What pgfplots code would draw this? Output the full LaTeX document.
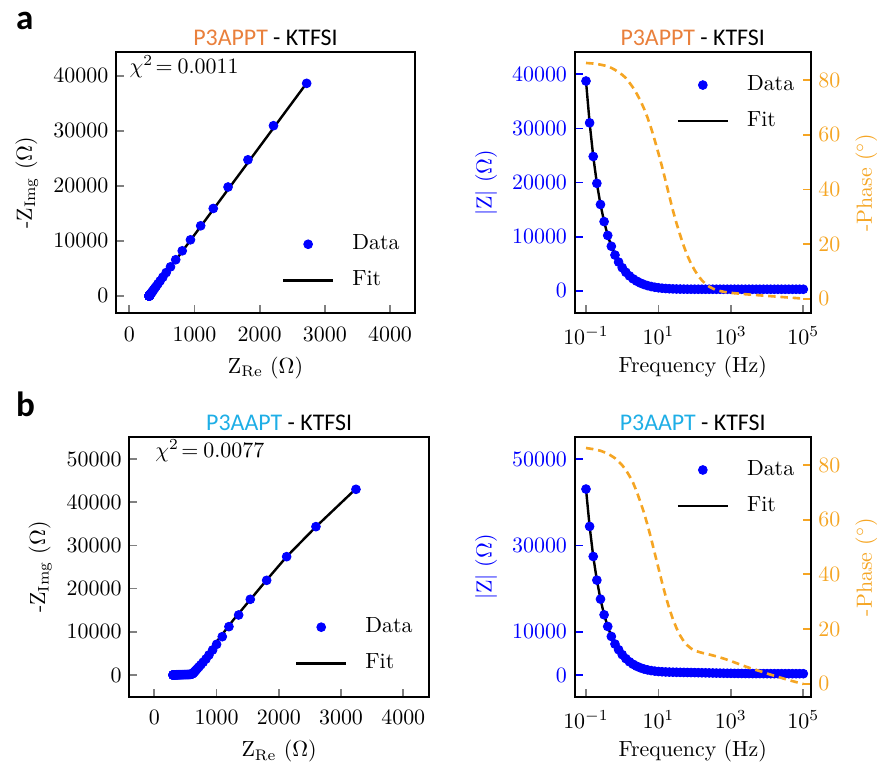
\documentclass[border=0pt]{standalone}
\usepackage{fontspec}
\usepackage{pgfplots}
\usepackage{pgfplotstable}
\pgfplotsset{compat=1.18}
\newfontfamily\carlito{Carlito}
\definecolor{dblue}{RGB}{0,0,255}
\definecolor{phaseorange}{RGB}{245,165,35}
\definecolor{titleorange}{RGB}{233,128,60}
\definecolor{titleblue}{RGB}{30,174,230}

% panel a data: frequency, Z_re, -Z_img, |Z|
\pgfplotstableread{
f zre zim zmod
1e-1 2721 38650 38750
1.2589e-1 2212 30950 31029
1.5849e-1 1820 24750 24817
1.9953e-1 1515 19800 19858
2.5119e-1 1288 15900 15952
3.1623e-1 1095 12750 12797
3.9811e-1 938 10200 10243
5.0119e-1 812 8200 8240
6.3096e-1 712 6580 6618
7.9433e-1 632 5290 5328
1e0 566 4244 4282
1.2589e0 514 3402 3441
1.5849e0 473 2728 2769
1.9953e0 439 2187 2231
2.5119e0 413 1753 1801
3.1623e0 391 1405 1458
3.9811e0 374 1127 1187
5.0119e0 361 903 972
6.3096e0 350 724 804
7.9433e0 341 580 673
1e1 334 465 573
1.2589e1 328 373 497
1.5849e1 323 299 440
1.9953e1 320 240 400
2.5119e1 317 192 371
3.1623e1 314 154 350
3.9811e1 313 124 337
5.0119e1 311 99 326
6.3096e1 310 79 320
7.9433e1 309 64 316
1e2 308 51 312
1.2589e2 308 41 311
1.5849e2 307 33 309
1.9953e2 307 26 308
2.5119e2 306 21 307
3.1623e2 306 17 306
3.9811e2 306 14 306
5.0119e2 306 11 306
6.3096e2 306 9 306
7.9433e2 305 7 305
1e3 305 6 305
1.2589e3 305 4.5 305
1.5849e3 305 3.6 305
1.9953e3 305 2.9 305
2.5119e3 305 2.3 305
3.1623e3 305 1.8 305
3.9811e3 305 1.5 305
5.0119e3 305 1.2 305
6.3096e3 305 0.9 305
7.9433e3 305 0.7 305
1e4 305 0.6 305
1.2589e4 305 0.5 305
1.5849e4 305 0.4 305
1.9953e4 305 0.3 305
2.5119e4 305 0.25 305
3.1623e4 305 0.2 305
3.9811e4 305 0.15 305
5.0119e4 305 0.12 305
6.3096e4 305 0.1 305
7.9433e4 305 0.08 305
1e5 305 0.06 305
}\dataA

% panel b data
\pgfplotstableread{
f zre zim zmod
1e-1 3240 42980 43102
1.2589e-1 2597 34340 34438
1.5849e-1 2126 27390 27472
1.9953e-1 1805 21910 21984
2.5119e-1 1542 17520 17588
3.1623e-1 1355 13890 13956
3.9811e-1 1199 11190 11254
5.0119e-1 1092 8870 8937
6.3096e-1 1001 7100 7170
7.9433e-1 937 5790 5865
1e0 878 4630 4713
1.2589e0 830 3700 3792
1.5849e0 785 2960 3062
1.9953e0 748 2370 2485
2.5119e0 718 1900 2031
3.1623e0 694 1520 1671
3.9811e0 675 1215 1390
5.0119e0 660 975 1177
6.3096e0 648 785 1018
7.9433e0 638 630 897
1e1 630 510 811
1.2589e1 623 415 749
1.5849e1 617 340 704
1.9953e1 611 285 674
2.5119e1 605 240 651
3.1623e1 598 205 632
3.9811e1 590 170 614
5.0119e1 580 150 599
6.3096e1 568 135 584
7.9433e1 555 122 568
1e2 540 112 551
1.2589e2 524 104 534
1.5849e2 507 97 516
1.9953e2 490 90 498
2.5119e2 473 84 480
3.1623e2 456 78 463
3.9811e2 440 72 446
5.0119e2 424 66 429
6.3096e2 409 60 413
7.9433e2 395 54 399
1e3 382 48 385
1.2589e3 370 42 372
1.5849e3 360 37 362
1.9953e3 350 32 351
2.5119e3 342 28 343
3.1623e3 335 24 336
3.9811e3 328 20 329
5.0119e3 323 17 323
6.3096e3 318 14 318
7.9433e3 314 11 314
1e4 311 9 311
1.2589e4 309 7 309
1.5849e4 307 6 307
1.9953e4 306 5 306
2.5119e4 305 4 305
3.1623e4 304 3 304
3.9811e4 303 2.5 303
5.0119e4 303 2 303
6.3096e4 302 1.5 302
7.9433e4 302 1 302
1e5 301 0.5 301
}\dataB

% fitted phase, panel a
\pgfplotstableread{
f ph
1e-1 86.2
1.2589e-1 86.1
1.5849e-1 86.0
1.9953e-1 85.8
2.5119e-1 85.6
3.1623e-1 85.3
3.9811e-1 85.0
5.0119e-1 84.4
6.3096e-1 83.7
7.9433e-1 82.8
1e0 81.9
1.2589e0 80.7
1.5849e0 79.0
1.9953e0 77.2
2.5119e0 75.0
3.1623e0 72.5
3.9811e0 69.6
5.0119e0 66.2
6.3096e0 62.3
7.9433e0 57.9
1e1 53.2
1.2589e1 48.3
1.5849e1 43.0
1.9953e1 37.6
2.5119e1 32.3
3.1623e1 27.6
3.9811e1 23.3
5.0119e1 19.3
6.3096e1 15.8
7.9433e1 12.9
1e2 10.5
1.2589e2 8.4
1.5849e2 6.8
1.9953e2 5.5
2.5119e2 4.5
3.1623e2 3.8
3.9811e2 3.2
6.3096e2 2.6
1e3 2.2
3.1623e3 1.6
1e4 1.1
3.1623e4 0.6
1e5 0.1
}\phaseA

% fitted phase, panel b
\pgfplotstableread{
f ph
1e-1 86.2
1.5849e-1 85.8
2.5119e-1 85.2
3.9811e-1 84.2
6.3096e-1 82.5
1e0 79.9
1.2589e0 78.2
1.5849e0 76.0
1.9953e0 73.5
2.5119e0 70.3
3.1623e0 66.5
3.9811e0 62.6
5.0119e0 58.0
6.3096e0 53.0
7.9433e0 47.6
1e1 42.3
1.2589e1 37.0
1.5849e1 32.0
1.9953e1 27.5
2.5119e1 23.6
3.1623e1 20.3
3.9811e1 17.6
5.0119e1 15.5
6.3096e1 14.0
7.9433e1 12.9
1e2 12.1
1.5849e2 11.3
2.5119e2 10.7
3.9811e2 10.0
6.3096e2 9.2
1e3 8.3
1.5849e3 7.3
2.5119e3 6.3
3.9811e3 5.4
6.3096e3 4.6
1e4 3.7
1.5849e4 2.9
2.5119e4 2.1
3.9811e4 1.3
6.3096e4 0.6
1e5 -0.1
}\phaseB

\pgfplotsset{
  panel/.style={
    scale only axis,
    axis line style={line width=0.9pt},
    every tick/.append style={line width=0.8pt},
    major tick length=3.6pt,
    tick align=inside,
    scaled ticks=false,
    /pgf/number format/1000 sep={},
    every axis title shift=0pt,
    title style={font=\carlito\fontsize{10.9}{13}\selectfont, anchor=base, at={(0.5,1)}, yshift=3.2pt},
    label style={font=\fontsize{10}{12}\selectfont},
    tick label style={font=\fontsize{10}{12}\selectfont},
    xticklabel shift=2.7pt,
    xlabel shift=0.4pt,
    legend cell align=left,
    legend style={draw=none, fill=none, inner sep=0pt, outer sep=0pt, row sep=7.5pt,
      font=\fontsize{10}{12}\selectfont,
      nodes={inner sep=0pt, text height=7pt, text depth=2pt},
      /tikz/every odd column/.append style={column sep=8.2pt}},
  },
  bode/.style={xlabel shift=-1.6pt},
  dataleg/.style={legend image code/.code={\draw[mark repeat=2, mark phase=2, ##1] plot coordinates {(0pt,0pt) (11.4pt,0pt) (22.8pt,0pt)};}},
  fitleg/.style={legend image code/.code={\draw[##1] (0pt,0pt) -- (22.8pt,0pt);}},
  datamarks/.style={only marks, mark=*, mark size=2.0pt, color=dblue, mark options={draw=dblue, fill=dblue}},
  fitline/.style={black, line width=1.1pt},
  phaseline/.style={phaseorange, line width=1.2pt, dash pattern=on 3.4pt off 2.2pt},
}

\begin{document}
\begin{tikzpicture}
\useasboundingbox (0,0) rectangle (400pt,349.37pt);

\node[anchor=base west, inner sep=0pt, font=\carlito\bfseries\fontsize{16}{19}\selectfont] at (7.2pt,335.7pt) {a};
\node[anchor=base west, inner sep=0pt, font=\carlito\bfseries\fontsize{16}{19}\selectfont] at (7.2pt,159.6pt) {b};

% ---------------- a, Nyquist
\begin{axis}[panel, at={(52.91pt,206.5pt)}, anchor=south west,
  width=136.37pt, height=119.04pt,
  xmin=-204, xmax=4383, ymin=-3145, ymax=44309,
  xtick={0,1000,2000,3000,4000}, ytick={0,10000,20000,30000,40000},
  tick pos=left,
  xlabel={Z\textsubscript{Re} ($\Omega$)},
  ylabel={-Z\textsubscript{Img} ($\Omega$)},
  title={\textcolor{titleorange}{P3APPT} - KTFSI},
  legend style={at={(0.555,0.302)}, anchor=north west}]
\addplot[datamarks, dataleg] table[x=zre, y=zim] {\dataA};
\addlegendentry{Data}
\addplot[fitline, fitleg] coordinates {(307,0) (335,450) (369,1000) (432,2000) (557,4000) (806,8000) (1243,15000) (1867,25000) (2428,34000) (2715,38600)};
\addlegendentry{Fit}
\node[anchor=base west, inner sep=0pt, font=\fontsize{10}{12}\selectfont] at (axis description cs:0.0445,0.917) {$\chi^2\mkern2mu{=}\mkern4mu0.0011$};
\end{axis}

% ---------------- a, Bode
\begin{axis}[panel, bode, at={(262.12pt,206.5pt)}, anchor=south west,
  width=107.64pt, height=119.04pt,
  xmode=log, xmin=0.04875, xmax=159955, xminorticks=false,
  xtick={0.1,10,1000,100000},
  ymin=-4122, ymax=44067, ytick={0,10000,20000,30000,40000},
  tick pos=left,
  ytick style={color=dblue},
  yticklabel style={color=dblue},
  ylabel style={color=dblue},
  xlabel={Frequency (Hz)},
  ylabel={$|$Z$|$ ($\Omega$)},
  title={\textcolor{titleorange}{P3APPT} - KTFSI},
  legend style={at={(0.432,0.912)}, anchor=north west}]
\addplot[datamarks, dataleg] table[x=f, y=zmod] {\dataA};
\addlegendentry{Data}
\addplot[fitline, fitleg] table[x=f, y=zmod] {\dataA};
\addlegendentry{Fit}
\end{axis}
\begin{axis}[panel, at={(262.12pt,206.5pt)}, anchor=south west,
  width=107.64pt, height=119.04pt,
  xmode=log, xmin=0.04875, xmax=159955, hide x axis,
  ymin=-5.23, ymax=90.13, ytick={0,20,40,60,80},
  ytick pos=right, yticklabel pos=right,
  ytick style={color=phaseorange},
  yticklabel style={color=phaseorange},
  ylabel style={color=phaseorange},
  ylabel={-Phase ($^\circ$)}]
\addplot[phaseline] table[x=f, y=ph] {\phaseA};
\end{axis}

% ---------------- b, Nyquist
\begin{axis}[panel, at={(58.97pt,31.6pt)}, anchor=south west,
  width=136.69pt, height=118.31pt,
  xmin=-402, xmax=4413, ymin=-5023, ymax=55023,
  xtick={0,1000,2000,3000,4000}, ytick={0,10000,20000,30000,40000,50000},
  tick pos=left,
  xlabel={Z\textsubscript{Re} ($\Omega$)},
  ylabel={-Z\textsubscript{Img} ($\Omega$)},
  title={\textcolor{titleblue}{P3AAPT} - KTFSI},
  legend style={at={(0.553,0.306)}, anchor=north west}]
\addplot[datamarks, dataleg] table[x=zre, y=zim] {\dataB};
\addlegendentry{Data}
\addplot[fitline, fitleg] coordinates {(280,0) (573,0) (590,250) (787,3860) (1002,7710) (1269,12730) (1537,17360) (1805,21990) (2130,27450) (2598,34330) (3235,43050)};
\addlegendentry{Fit}
\node[anchor=base west, inner sep=0pt, font=\fontsize{10}{12}\selectfont] at (axis description cs:0.0858,0.923) {$\chi^2\mkern2mu{=}\mkern4mu0.0077$};
\end{axis}

% ---------------- b, Bode
\begin{axis}[panel, bode, at={(262.12pt,31.6pt)}, anchor=south west,
  width=107.64pt, height=118.31pt,
  xmode=log, xmin=0.04875, xmax=159955, xminorticks=false,
  xtick={0.1,10,1000,100000},
  ymin=-5030, ymax=55100, ytick={0,10000,30000,50000},
  tick pos=left,
  ytick style={color=dblue},
  yticklabel style={color=dblue},
  ylabel style={color=dblue},
  xlabel={Frequency (Hz)},
  ylabel={$|$Z$|$ ($\Omega$)},
  title={\textcolor{titleblue}{P3AAPT} - KTFSI},
  legend style={at={(0.432,0.912)}, anchor=north west}]
\addplot[datamarks, dataleg] table[x=f, y=zmod] {\dataB};
\addlegendentry{Data}
\addplot[fitline, fitleg] table[x=f, y=zmod] {\dataB};
\addlegendentry{Fit}
\end{axis}
\begin{axis}[panel, at={(262.12pt,31.6pt)}, anchor=south west,
  width=107.64pt, height=118.31pt,
  xmode=log, xmin=0.04875, xmax=159955, hide x axis,
  ymin=-4.75, ymax=90.13, ytick={0,20,40,60,80},
  ytick pos=right, yticklabel pos=right,
  ytick style={color=phaseorange},
  yticklabel style={color=phaseorange},
  ylabel style={color=phaseorange},
  ylabel={-Phase ($^\circ$)}]
\addplot[phaseline] table[x=f, y=ph] {\phaseB};
\end{axis}
\end{tikzpicture}
\end{document}
